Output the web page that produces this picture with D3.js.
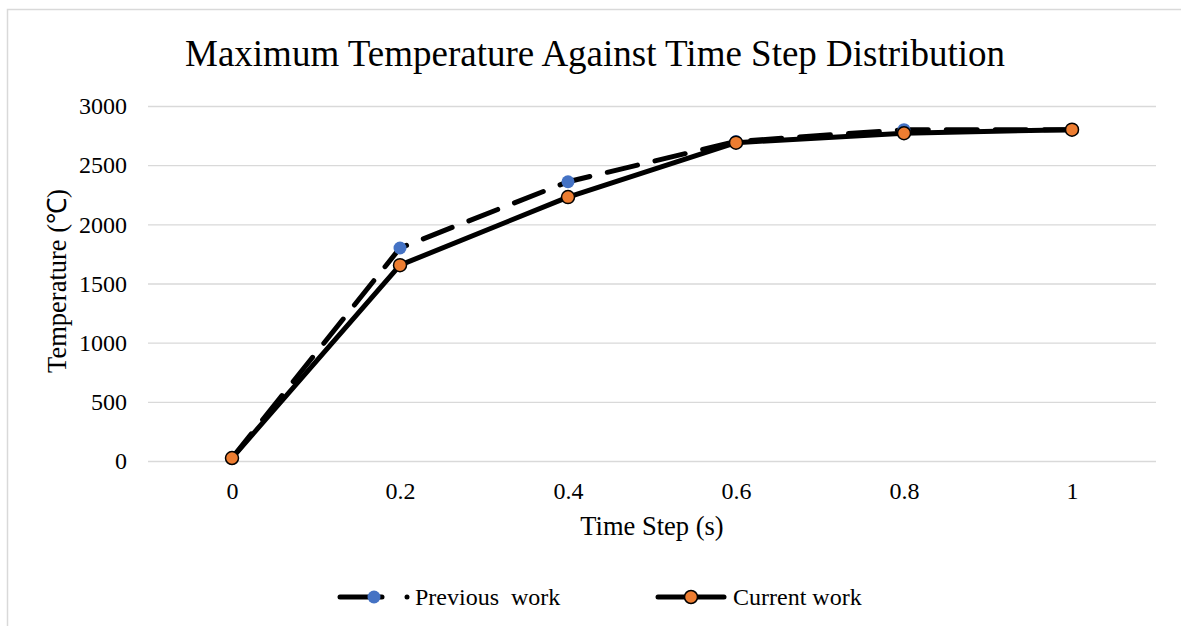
<!DOCTYPE html>
<html>
<head>
<meta charset="utf-8">
<script src="https://cdn.jsdelivr.net/npm/d3@7"></script>
<style>
  body { margin: 0; background: #fff; }
  text { font-family: "Liberation Serif", "Times New Roman", serif; fill: #000; white-space: pre; }
</style>
</head>
<body>
<svg id="chart" width="1181" height="626"></svg>
<script>
const categories = ["0", "0.2", "0.4", "0.6", "0.8", "1"];
const previousWork = [25, 1800, 2360, 2700, 2800, 2800];
const currentWork = [25, 1655, 2230, 2690, 2770, 2800];
const yTicks = [0, 500, 1000, 1500, 2000, 2500, 3000];
const titleText = "Maximum Temperature Against Time Step Distribution";
const xTitle = "Time Step (s)";
const yTitle = "Temperature (\u2103)";
const seriesNames = ["Previous  work", "Current work"];

const svg = d3.select("#chart");

// chart border
svg.append("rect").attr("x", 7.5).attr("y", 9.5).attr("width", 1200).attr("height", 700)
  .attr("fill", "#fff").attr("stroke", "#d9d9d9").attr("stroke-width", 1.5);

const plot = { left: 148, right: 1156, top: 106, bottom: 461 };

const x = d3.scalePoint().domain(categories).range([plot.left, plot.right]).padding(0.5);
const y = d3.scaleLinear().domain([0, 3000]).range([plot.bottom, plot.top]);

// gridlines
svg.append("g").selectAll("line").data(yTicks).join("line")
  .attr("x1", plot.left).attr("x2", plot.right)
  .attr("y1", d => y(d) + 0.5).attr("y2", d => y(d) + 0.5)
  .attr("stroke", "#d9d9d9").attr("stroke-width", 1.3);

// y axis labels
const yAxis = d3.axisLeft(y).tickValues(yTicks).tickFormat(d3.format("d")).tickSize(0).tickPadding(21);
const yg = svg.append("g").attr("transform", `translate(${plot.left},0)`).call(yAxis);
yg.select(".domain").remove();
yg.selectAll("text").style("font-size", "24px").style("font-family", "Liberation Serif").attr("fill", "#000");

// x axis labels
const xAxis = d3.axisBottom(x).tickSize(0).tickPadding(21);
const xg = svg.append("g").attr("transform", `translate(0,${plot.bottom})`).call(xAxis);
xg.select(".domain").remove();
xg.selectAll("text").style("font-size", "24px").style("font-family", "Liberation Serif").attr("fill", "#000");

// title
svg.append("text").attr("x", 595).attr("y", 66).attr("text-anchor", "middle")
  .style("font-size", "37px").text(titleText);

// axis titles
svg.append("text").attr("x", 652).attr("y", 535).attr("text-anchor", "middle")
  .style("font-size", "26.5px").text(xTitle);
svg.append("text").attr("transform", "translate(66,281) rotate(-90)").attr("text-anchor", "middle")
  .style("font-size", "26.5px").text(yTitle);

const line = d3.line().x((d, i) => x(categories[i])).y(d => y(d));

// previous work (dashed)
svg.append("path").datum(previousWork).attr("d", line)
  .attr("fill", "none").attr("stroke", "#000").attr("stroke-width", 5)
  .attr("stroke-dasharray", "31 18").attr("stroke-linecap", "round").attr("stroke-linejoin", "round");
svg.append("g").selectAll("circle").data(previousWork).join("circle")
  .attr("cx", (d, i) => x(categories[i])).attr("cy", d => y(d)).attr("r", 6.5)
  .attr("fill", "#4472C4");

// current work (solid)
svg.append("path").datum(currentWork).attr("d", line)
  .attr("fill", "none").attr("stroke", "#000").attr("stroke-width", 5)
  .attr("stroke-linejoin", "round");
svg.append("g").selectAll("circle").data(currentWork).join("circle")
  .attr("cx", (d, i) => x(categories[i])).attr("cy", d => y(d)).attr("r", 6.5)
  .attr("fill", "#ED7D31").attr("stroke", "#000").attr("stroke-width", 1.5);

// legend
const lg = svg.append("g");
const ly = 597;
// previous
lg.append("line").attr("x1", 340).attr("x2", 382).attr("y1", ly).attr("y2", ly)
  .attr("stroke", "#000").attr("stroke-width", 5).attr("stroke-linecap", "round");
lg.append("circle").attr("cx", 374).attr("cy", ly).attr("r", 6.5).attr("fill", "#4472C4");
lg.append("circle").attr("cx", 407).attr("cy", ly).attr("r", 2.5).attr("fill", "#000");
lg.append("text").attr("x", 415).attr("y", ly + 8).style("font-size", "24px").text(seriesNames[0]);
// current
lg.append("line").attr("x1", 658).attr("x2", 724).attr("y1", ly).attr("y2", ly)
  .attr("stroke", "#000").attr("stroke-width", 5).attr("stroke-linecap", "round");
lg.append("circle").attr("cx", 691).attr("cy", ly).attr("r", 6.5)
  .attr("fill", "#ED7D31").attr("stroke", "#000").attr("stroke-width", 1.5);
lg.append("text").attr("x", 733).attr("y", ly + 8).style("font-size", "24px").text(seriesNames[1]);
</script>
</body>
</html>
